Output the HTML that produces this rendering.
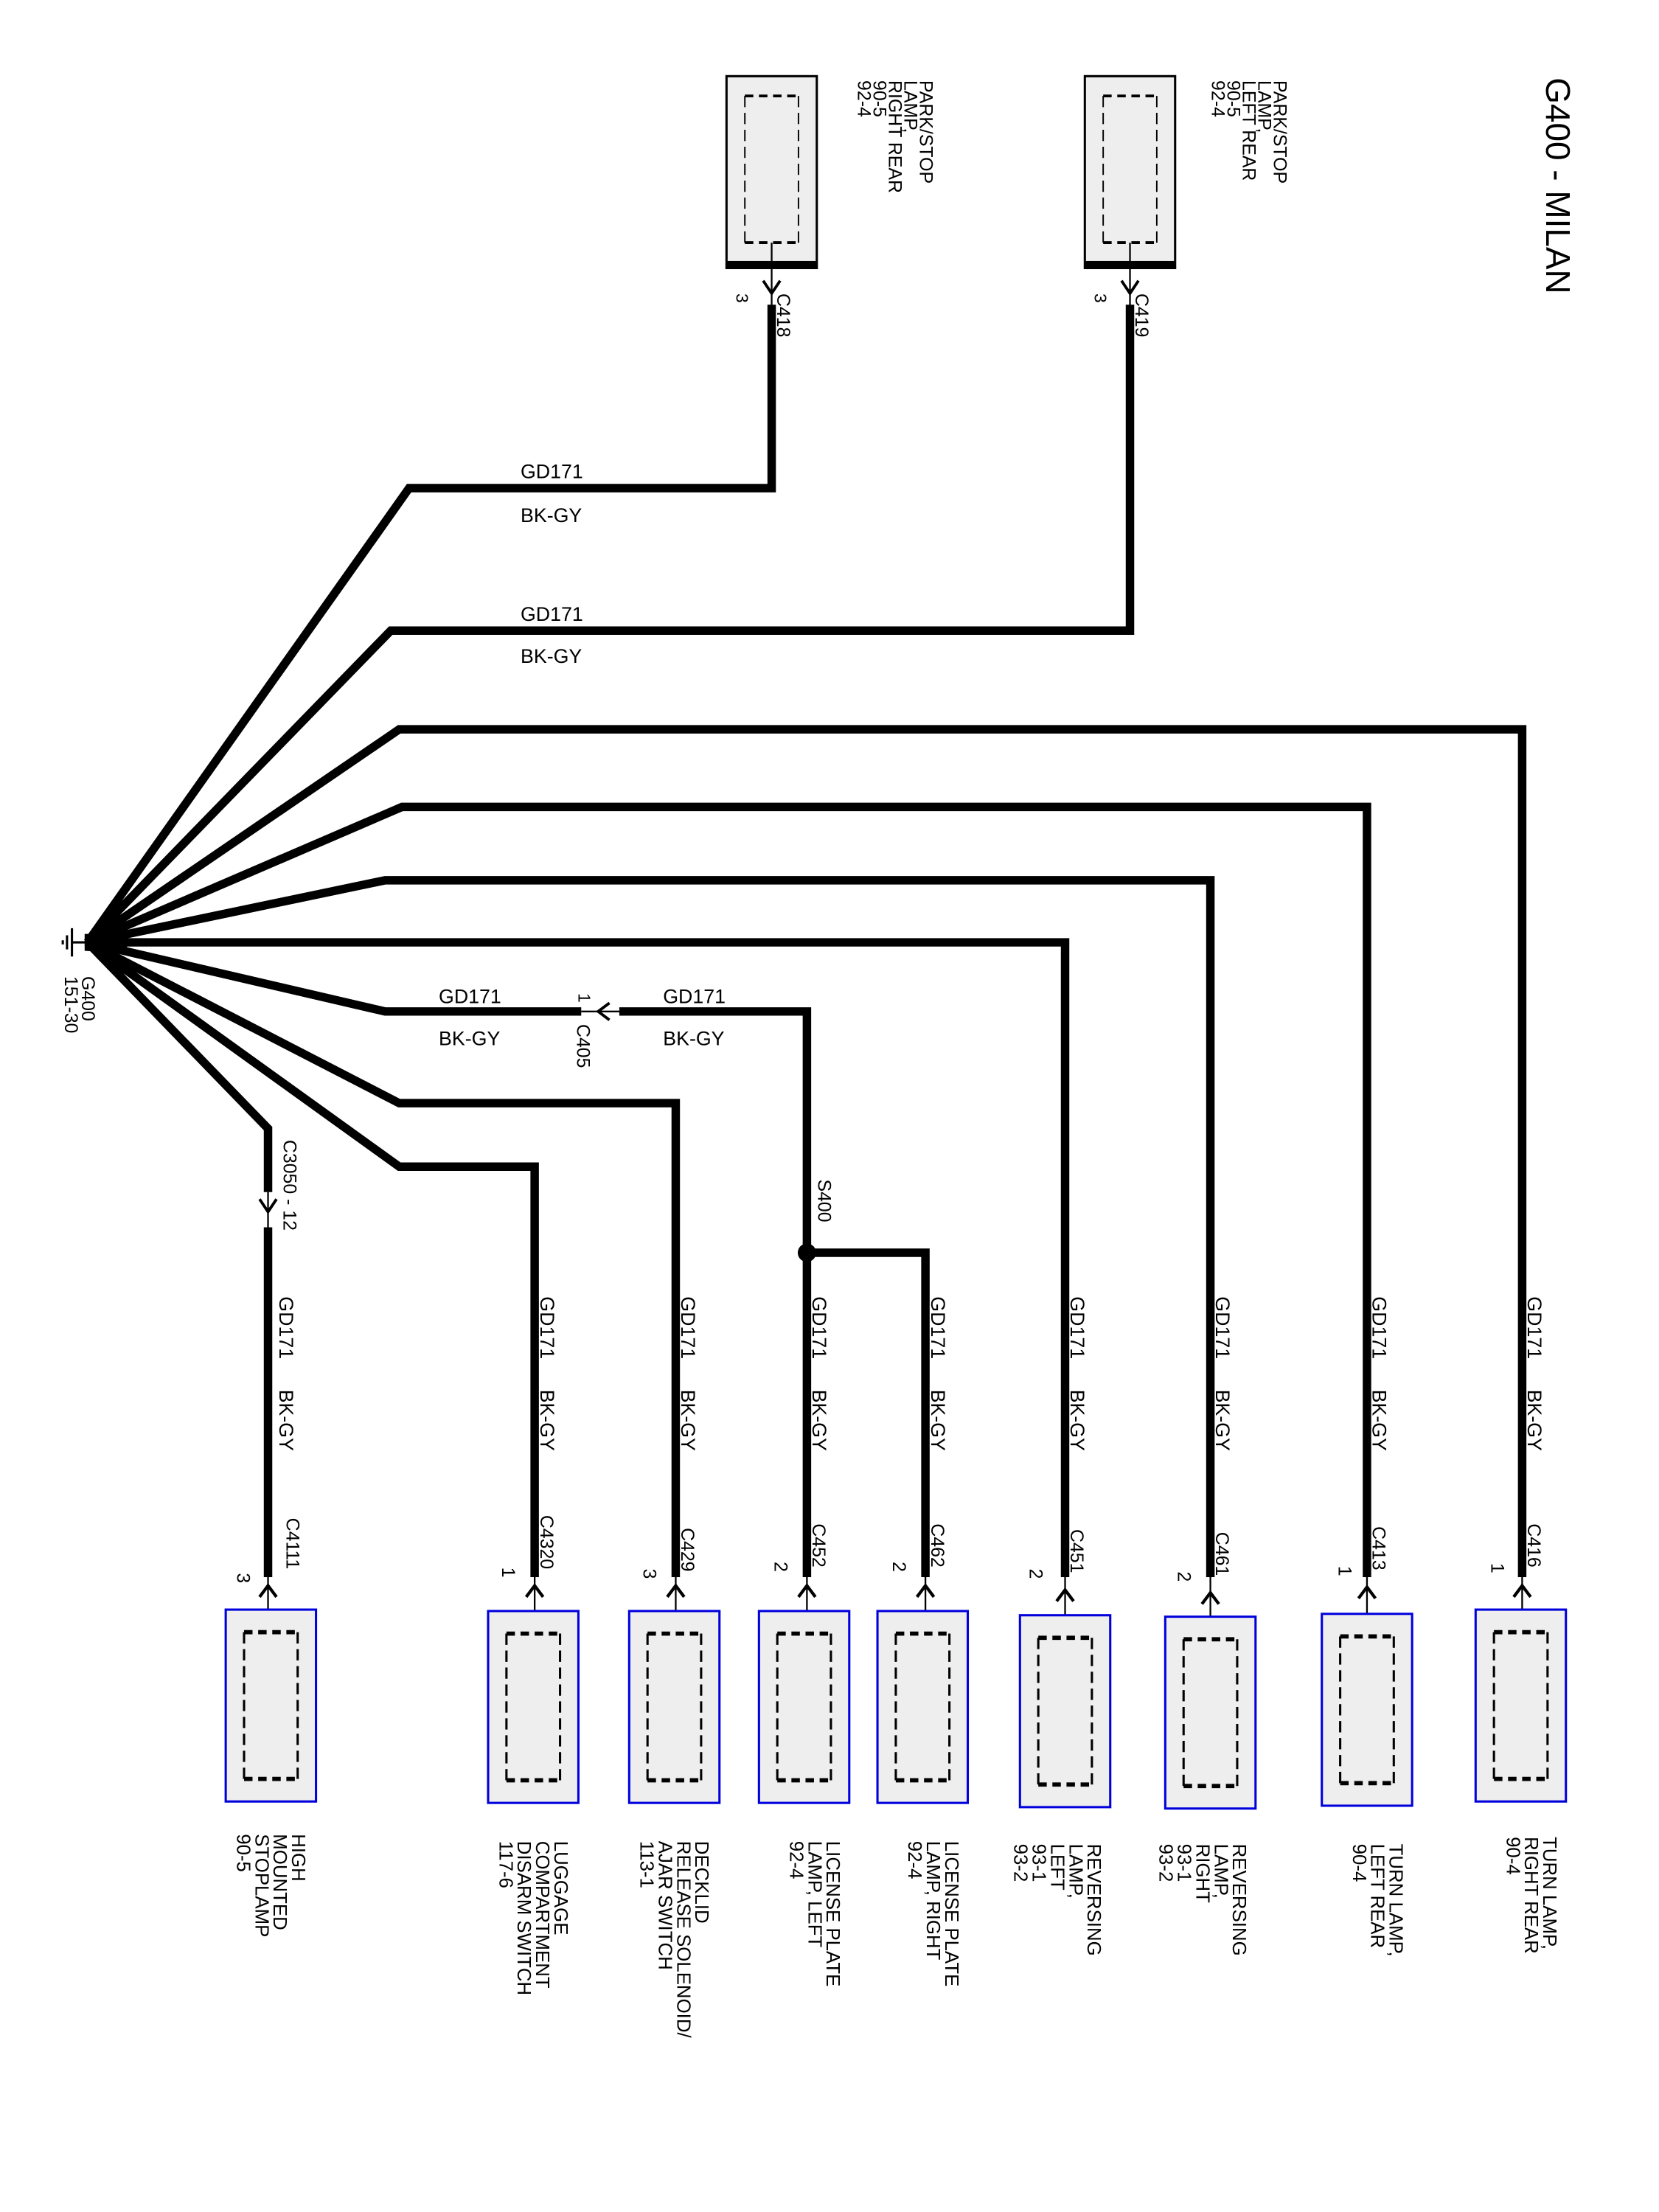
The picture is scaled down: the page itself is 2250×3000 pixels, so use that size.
<!DOCTYPE html>
<html><head><meta charset="utf-8"><style>
html,body{margin:0;padding:0;background:#fff;}
svg{display:block;}
text{font-family:"Liberation Sans",Arial,sans-serif;fill:#000;}
</style></head><body>
<svg width="2250" height="3000" viewBox="0 0 1176 1568" preserveAspectRatio="none" xmlns="http://www.w3.org/2000/svg">
<defs>
<g id="boxB">
<rect x="0" y="0" width="64" height="136" fill="#eeeeee" stroke="#0000dd" stroke-width="1.6"/>
<path d="M13 16 H51 M13 120 H51" stroke="#000" stroke-width="3" stroke-dasharray="6 4" fill="none"/>
<path d="M13 16 V120 M51 16 V120" stroke="#000" stroke-width="1.6" stroke-dasharray="8 4" fill="none"/>
</g>
<g id="boxT">
<rect x="0" y="0" width="64" height="136" fill="#eeeeee" stroke="#000" stroke-width="1.6"/>
<rect x="0" y="131" width="64" height="5" fill="#000"/>
<path d="M13 14 H51 M13 118 H51" stroke="#000" stroke-width="2" stroke-dasharray="6 4" fill="none"/>
<path d="M13 14 V118 M51 14 V118" stroke="#000" stroke-width="1" stroke-dasharray="8 4" fill="none"/>
</g>
</defs>

<text transform="translate(1096,55) rotate(90)" font-size="24">G400 - MILAN</text>

<use href="#boxT" x="515" y="54"/>
<use href="#boxT" x="769" y="54"/>
<path d="M547 172 V217 M801 172 V217" stroke="#000" stroke-width="1.2" fill="none"/>
<path d="M541 199 L547 208 L553 199 M795 199 L801 208 L807 199" stroke="#000" stroke-width="2" fill="none"/>
<text transform="translate(522,208) rotate(90)" font-size="12">3</text>
<text transform="translate(776,208) rotate(90)" font-size="12">3</text>
<text transform="translate(551,208) rotate(90)" font-size="13">C418</text>
<text transform="translate(805,208) rotate(90)" font-size="13">C419</text>
<g font-size="13">
<text transform="translate(652,57) rotate(90)">PARK/STOP</text>
<text transform="translate(641,57) rotate(90)">LAMP,</text>
<text transform="translate(630,57) rotate(90)">RIGHT REAR</text>
<text transform="translate(619,57) rotate(90)">90-5</text>
<text transform="translate(608,57) rotate(90)">92-4</text>
<text transform="translate(903,57) rotate(90)">PARK/STOP</text>
<text transform="translate(892,57) rotate(90)">LAMP,</text>
<text transform="translate(881,57) rotate(90)">LEFT REAR</text>
<text transform="translate(870,57) rotate(90)">90-5</text>
<text transform="translate(859,57) rotate(90)">92-4</text>
</g>

<g stroke="#000" stroke-width="6" fill="none" stroke-linejoin="miter">
<path d="M62 668 L290 346 H547 V216"/>
<path d="M62 668 L277 447 H801 V216"/>
<path d="M62 668 L283 517 H1079 V1118"/>
<path d="M62 668 L285 572 H969 V1118"/>
<path d="M62 668 L273 624 H858 V1118"/>
<path d="M62 668 H755 V1118"/>
<path d="M62 668 L273 717 H412"/>
<path d="M439 717 H572 V1118"/>
<path d="M572 888 H656 V1118"/>
<path d="M62 668 L283 782 H479 V1118"/>
<path d="M62 668 L283 827 H379 V1118"/>
<path d="M62 668 L190 800 V845"/>
<path d="M190 870 V1118"/>
</g>
<polygon points="60,662 90,662 90,676 60,674" fill="#000"/>

<path d="M51 668 H62 M51 658 V678 M47.5 663 V673 M44.5 666.5 V669.5" stroke="#000" stroke-width="1.6" fill="none"/>
<text transform="translate(58,692) rotate(90)" font-size="13">G400</text>
<text transform="translate(46,692) rotate(90)" font-size="13">151-30</text>

<path d="M412 717 H439" stroke="#000" stroke-width="1.2"/>
<path d="M432 711 L424 717 L432 723" stroke="#000" stroke-width="2" fill="none"/>
<text transform="translate(410,704) rotate(90)" font-size="12">1</text>
<text transform="translate(409,726) rotate(90)" font-size="13">C405</text>

<path d="M190 845 V870" stroke="#000" stroke-width="1.2"/>
<path d="M184 850 L190 859 L196 850" stroke="#000" stroke-width="2" fill="none"/>
<text transform="translate(201,808) rotate(90)" font-size="13">C3050 - 12</text>

<circle cx="572" cy="888" r="6.5" fill="#000"/>
<text transform="translate(580,836) rotate(90)" font-size="13">S400</text>

<g font-size="14">
<text x="369" y="339">GD171</text><text x="369" y="370">BK-GY</text>
<text x="369" y="440">GD171</text><text x="369" y="470">BK-GY</text>
<text x="311" y="711">GD171</text><text x="311" y="741">BK-GY</text>
<text x="470" y="711">GD171</text><text x="470" y="741">BK-GY</text>
</g>

<g font-size="14">
<text transform="translate(198,919) rotate(90)">GD171</text><text transform="translate(198,985) rotate(90)">BK-GY</text>
<text transform="translate(383,919) rotate(90)">GD171</text><text transform="translate(383,985) rotate(90)">BK-GY</text>
<text transform="translate(483,919) rotate(90)">GD171</text><text transform="translate(483,985) rotate(90)">BK-GY</text>
<text transform="translate(576,919) rotate(90)">GD171</text><text transform="translate(576,985) rotate(90)">BK-GY</text>
<text transform="translate(660,919) rotate(90)">GD171</text><text transform="translate(660,985) rotate(90)">BK-GY</text>
<text transform="translate(759,919) rotate(90)">GD171</text><text transform="translate(759,985) rotate(90)">BK-GY</text>
<text transform="translate(862,919) rotate(90)">GD171</text><text transform="translate(862,985) rotate(90)">BK-GY</text>
<text transform="translate(973,919) rotate(90)">GD171</text><text transform="translate(973,985) rotate(90)">BK-GY</text>
<text transform="translate(1083,919) rotate(90)">GD171</text><text transform="translate(1083,985) rotate(90)">BK-GY</text>
</g>

<g stroke="#000" fill="none">
<path stroke-width="1.2" d="M190 1118 V1157 M379 1118 V1160 M479 1118 V1160 M572 1118 V1160 M656 1118 V1160 M755 1118 V1163 M858 1118 V1162 M969 1118 V1160 M1079 1118 V1157"/>
<path stroke-width="2.2" d="M184 1132 L190 1124 L196 1132 M373 1132 L379 1124 L385 1132 M473 1132 L479 1124 L485 1132 M566 1132 L572 1124 L578 1132 M650 1132 L656 1124 L662 1132 M749 1135 L755 1127 L761 1135 M852 1137 L858 1129 L864 1137 M963 1133 L969 1125 L975 1133 M1073 1132 L1079 1124 L1085 1132"/>
</g>
<g font-size="13">
<text transform="translate(203,1076) rotate(90)">C4111</text><text transform="translate(168,1115) rotate(90)">3</text>
<text transform="translate(383,1074) rotate(90)">C4320</text><text transform="translate(356,1111) rotate(90)">1</text>
<text transform="translate(483,1083) rotate(90)">C429</text><text transform="translate(456,1112) rotate(90)">3</text>
<text transform="translate(576,1080) rotate(90)">C452</text><text transform="translate(549,1107) rotate(90)">2</text>
<text transform="translate(660,1080) rotate(90)">C462</text><text transform="translate(633,1107) rotate(90)">2</text>
<text transform="translate(759,1084) rotate(90)">C451</text><text transform="translate(730,1112) rotate(90)">2</text>
<text transform="translate(862,1086) rotate(90)">C461</text><text transform="translate(835,1114) rotate(90)">2</text>
<text transform="translate(973,1082) rotate(90)">C413</text><text transform="translate(949,1110) rotate(90)">1</text>
<text transform="translate(1083,1080) rotate(90)">C416</text><text transform="translate(1057,1108) rotate(90)">1</text>
</g>

<use href="#boxB" x="160" y="1141"/>
<use href="#boxB" x="346" y="1142"/>
<use href="#boxB" x="446" y="1142"/>
<use href="#boxB" x="538" y="1142"/>
<use href="#boxB" x="622" y="1142"/>
<use href="#boxB" x="723" y="1145"/>
<use href="#boxB" x="826" y="1146"/>
<use href="#boxB" x="937" y="1144"/>
<use href="#boxB" x="1046" y="1141"/>

<g font-size="13.5">
<text transform="translate(207,1300) rotate(90)">HIGH</text>
<text transform="translate(194,1300) rotate(90)">MOUNTED</text>
<text transform="translate(181,1300) rotate(90)">STOPLAMP</text>
<text transform="translate(168,1300) rotate(90)">90-5</text>

<text transform="translate(393,1305) rotate(90)">LUGGAGE</text>
<text transform="translate(380,1305) rotate(90)">COMPARTMENT</text>
<text transform="translate(367,1305) rotate(90)">DISARM SWITCH</text>
<text transform="translate(354,1305) rotate(90)">117-6</text>

<text transform="translate(493,1305) rotate(90)">DECKLID</text>
<text transform="translate(480,1305) rotate(90)">RELEASE SOLENOID/</text>
<text transform="translate(467,1305) rotate(90)">AJAR SWITCH</text>
<text transform="translate(454,1305) rotate(90)">113-1</text>

<text transform="translate(586,1305) rotate(90)">LICENSE PLATE</text>
<text transform="translate(573,1305) rotate(90)">LAMP, LEFT</text>
<text transform="translate(560,1305) rotate(90)">92-4</text>

<text transform="translate(670,1305) rotate(90)">LICENSE PLATE</text>
<text transform="translate(657,1305) rotate(90)">LAMP, RIGHT</text>
<text transform="translate(644,1305) rotate(90)">92-4</text>

<text transform="translate(771,1307) rotate(90)">REVERSING</text>
<text transform="translate(758,1307) rotate(90)">LAMP,</text>
<text transform="translate(745,1307) rotate(90)">LEFT</text>
<text transform="translate(732,1307) rotate(90)">93-1</text>
<text transform="translate(719,1307) rotate(90)">93-2</text>

<text transform="translate(874,1307) rotate(90)">REVERSING</text>
<text transform="translate(861,1307) rotate(90)">LAMP,</text>
<text transform="translate(848,1307) rotate(90)">RIGHT</text>
<text transform="translate(835,1307) rotate(90)">93-1</text>
<text transform="translate(822,1307) rotate(90)">93-2</text>

<text transform="translate(985,1307) rotate(90)">TURN LAMP,</text>
<text transform="translate(972,1307) rotate(90)">LEFT REAR</text>
<text transform="translate(959,1307) rotate(90)">90-4</text>

<text transform="translate(1094,1302) rotate(90)">TURN LAMP,</text>
<text transform="translate(1081,1302) rotate(90)">RIGHT REAR</text>
<text transform="translate(1068,1302) rotate(90)">90-4</text>
</g>
</svg>
</body></html>
